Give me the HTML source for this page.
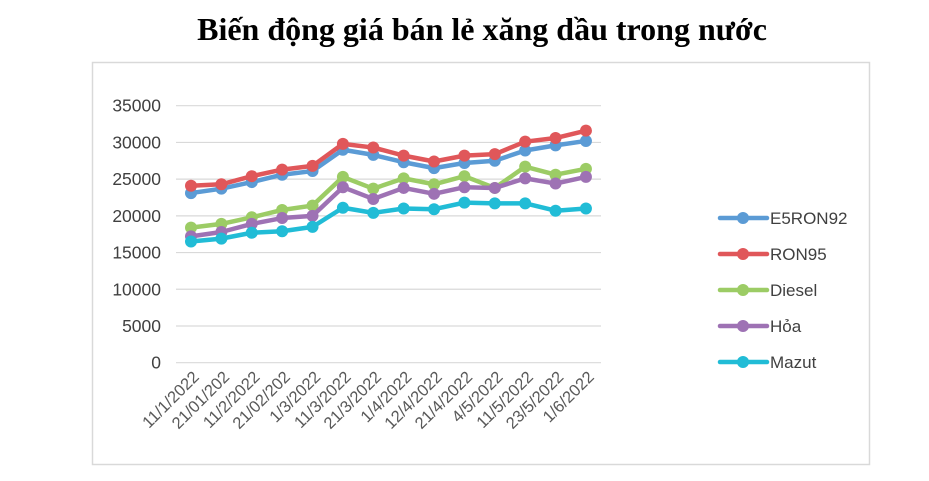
<!DOCTYPE html>
<html><head><meta charset="utf-8"><style>
html,body{margin:0;padding:0;background:#fff;width:929px;height:481px;overflow:hidden}
</style></head><body>
<svg width="929" height="481" xmlns="http://www.w3.org/2000/svg" id="s">
<rect width="929" height="481" fill="#fff"/>
<text x="482" y="40" text-anchor="middle" font-family="Liberation Serif, serif" font-weight="bold" font-size="32" fill="#000">Biến động giá bán lẻ xăng dầu trong nước</text>
<rect x="92.5" y="62.5" width="777" height="402" fill="none" stroke="#d9d9d9" stroke-width="1.5"/>
<g id="grid"></g><g id="series"></g><g id="labels"></g>
</svg>
<script>
const NS="http://www.w3.org/2000/svg";
function el(t,a,p,txt){const e=document.createElementNS(NS,t);for(const k in a)e.setAttribute(k,a[k]);if(txt!==undefined)e.textContent=txt;p.appendChild(e);return e;}
const y0=362.7,k=257/35000,yv=v=>y0-v*k;
const g=document.getElementById('grid'),sg=document.getElementById('series'),lg=document.getElementById('labels');
for(let v=0;v<=35000;v+=5000){const y=yv(v);
el('line',{x1:176,x2:601,y1:y,y2:y,stroke:'#d9d9d9','stroke-width':1.2},g);
el('text',{x:161,y:y+6,'text-anchor':'end','font-family':'Liberation Sans, sans-serif','font-size':17.5,fill:'#404040'},lg,String(v));}
const labs=["11/1/2022","21/01/202","11/2/2022","21/02/202","1/3/2022","11/3/2022","21/3/2022","1/4/2022","12/4/2022","21/4/2022","4/5/2022","11/5/2022","23/5/2022","1/6/2022"];
const xs=i=>191+i*30.38;
labs.forEach((l,i)=>{const x=xs(i)+9,y=378;el('text',{x:x,y:y,'text-anchor':'end',transform:`rotate(-45 ${x} ${y})`,'font-family':'Liberation Sans, sans-serif','font-size':16.5,fill:'#595959'},lg,l);});
const S=[
["E5RON92","#5b9bd5",[23100,23700,24600,25600,26100,29000,28300,27300,26500,27200,27500,28900,29600,30200]],
["RON95","#e0575a",[24100,24300,25400,26300,26800,29800,29300,28200,27400,28200,28400,30100,30600,31600]],
["Diesel","#9ccc65",[18400,18900,19800,20800,21400,25300,23700,25100,24300,25400,23800,26700,25600,26400]],
["Hỏa","#9e72b4",[17200,17800,18900,19700,20000,23900,22300,23800,23000,23900,23800,25100,24400,25300]],
["Mazut","#21bcd6",[16500,16900,17700,17900,18500,21100,20400,21000,20900,21800,21700,21700,20700,21000]]];
const order=[2,3,0,1,4];
order.forEach(si=>{const [n,c,d]=S[si];
el('polyline',{points:d.map((v,i)=>xs(i)+','+yv(v)).join(' '),fill:'none',stroke:c,'stroke-width':4.5,'stroke-linejoin':'round'},sg);
d.forEach((v,i)=>el('circle',{cx:xs(i),cy:yv(v),r:6,fill:c},sg));});
S.forEach(([n,c],i)=>{const y=218+i*36;
el('line',{x1:720,x2:767,y1:y,y2:y,stroke:c,'stroke-width':4.5,'stroke-linecap':'round'},lg);
el('circle',{cx:743,cy:y,r:6,fill:c},lg);
el('text',{x:770,y:y+6,'font-family':'Liberation Sans, sans-serif','font-size':17,fill:'#404040'},lg,n);});
</script>
</body></html>
